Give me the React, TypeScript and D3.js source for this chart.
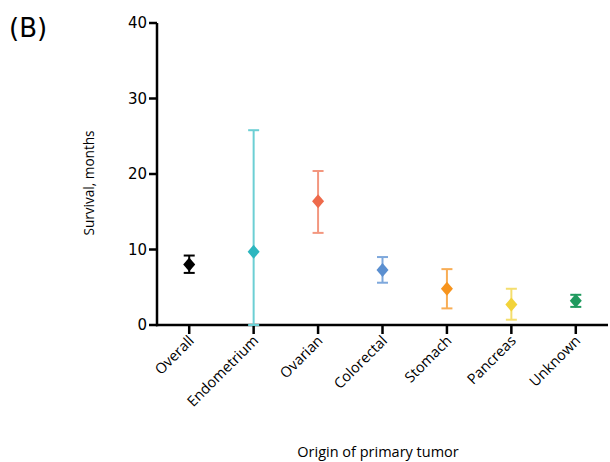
import React, { useEffect, useRef } from 'react';
import * as d3 from 'd3';

const categories = ['Overall', 'Endometrium', 'Ovarian', 'Colorectal', 'Stomach', 'Pancreas', 'Unknown'];
const medians = [8.0, 9.7, 16.4, 7.3, 4.8, 2.7, 3.2];
const lower = [6.9, 0, 12.2, 5.6, 2.2, 0.7, 2.4];
const upper = [9.2, 25.8, 20.4, 9.0, 7.4, 4.8, 4.0];
const markerColors = ['#000000', '#2db6bf', '#ee6a4b', '#5b8fd0', '#f7941d', '#f2d33a', '#1f9a5e'];
const barColors = ['#000000', '#6ccfd4', '#f3977f', '#7ea8dc', '#f8ad55', '#f4de6e', '#1f9a5e'];
const yTicks = [0, 10, 20, 30, 40];

export default function App() {
  const ref = useRef<SVGSVGElement>(null);

  useEffect(() => {
    const svg = d3.select(ref.current);
    svg.selectAll('*').remove();

    const x = d3.scaleBand().domain(categories).range([157, 608]).padding(0);
    const y = d3.scaleLinear().domain([0, 40]).range([325, 23]);
    const font = 'DejaVu Sans, sans-serif';
    const labelFont = 'Open Sans, sans-serif';

    svg.append('text')
      .attr('x', 9).attr('y', 37)
      .attr('font-family', font).attr('font-size', 26)
      .text('(B)');

    // y axis
    const yAxis = svg.append('g');
    yAxis.append('line')
      .attr('x1', 157).attr('x2', 157)
      .attr('y1', y(40)).attr('y2', y(0) + 1.25)
      .attr('stroke', '#000').attr('stroke-width', 2.5);
    const yt = yAxis.selectAll('g.yt').data(yTicks).enter().append('g')
      .attr('transform', d => `translate(0,${y(d)})`);
    yt.append('line').attr('x1', 149).attr('x2', 157).attr('stroke', '#000').attr('stroke-width', 2.5);
    yt.append('text')
      .attr('x', 147).attr('dy', '0.36em')
      .attr('text-anchor', 'end')
      .attr('font-family', font).attr('font-size', 15)
      .text(d => String(d));

    svg.append('text')
      .attr('transform', `translate(94,183) rotate(-90)`)
      .attr('text-anchor', 'middle')
      .attr('font-family', labelFont).attr('font-size', 13.6)
      .text('Survival, months');

    // x axis
    svg.append('line')
      .attr('x1', 156).attr('x2', 608)
      .attr('y1', y(0)).attr('y2', y(0))
      .attr('stroke', '#000').attr('stroke-width', 2.5);
    const xt = svg.selectAll('g.xt').data(categories).enter().append('g')
      .attr('transform', d => `translate(${(x(d) as number) + x.bandwidth() / 2},${y(0)})`);
    xt.append('line').attr('y1', 0).attr('y2', 9).attr('stroke', '#000').attr('stroke-width', 2.5);
    xt.append('text')
      .attr('transform', 'translate(2,13) rotate(-45)')
      .attr('text-anchor', 'end')
      .attr('dy', '0.35em')
      .attr('font-family', labelFont).attr('font-size', 14.5)
      .text(d => d);

    svg.append('text')
      .attr('x', 378).attr('y', 457)
      .attr('text-anchor', 'middle')
      .attr('font-family', labelFont).attr('font-size', 14.5)
      .text('Origin of primary tumor');

    // error bars and markers
    const pts = svg.selectAll('g.pt').data(categories).enter().append('g')
      .attr('transform', d => `translate(${(x(d) as number) + x.bandwidth() / 2},0)`);
    pts.append('line')
      .attr('y1', (_, i) => y(lower[i])).attr('y2', (_, i) => y(upper[i]))
      .attr('stroke', (_, i) => barColors[i]).attr('stroke-width', 2);
    pts.append('line')
      .attr('x1', -5.5).attr('x2', 5.5)
      .attr('y1', (_, i) => y(upper[i])).attr('y2', (_, i) => y(upper[i]))
      .attr('stroke', (_, i) => barColors[i]).attr('stroke-width', 2);
    pts.append('line')
      .attr('x1', -5.5).attr('x2', 5.5)
      .attr('y1', (_, i) => y(lower[i])).attr('y2', (_, i) => y(lower[i]))
      .attr('stroke', (_, i) => barColors[i]).attr('stroke-width', 2);
    pts.append('path')
      .attr('d', (_, i) => {
        const cy = y(medians[i]);
        return `M0,${cy - 7}L6,${cy}L0,${cy + 7}L-6,${cy}Z`;
      })
      .attr('fill', (_, i) => markerColors[i]);
  }, []);

  return <svg ref={ref} width={610} height={462} style={{ position: 'absolute', left: 0, top: 0, background: '#fff' }} />;
}
